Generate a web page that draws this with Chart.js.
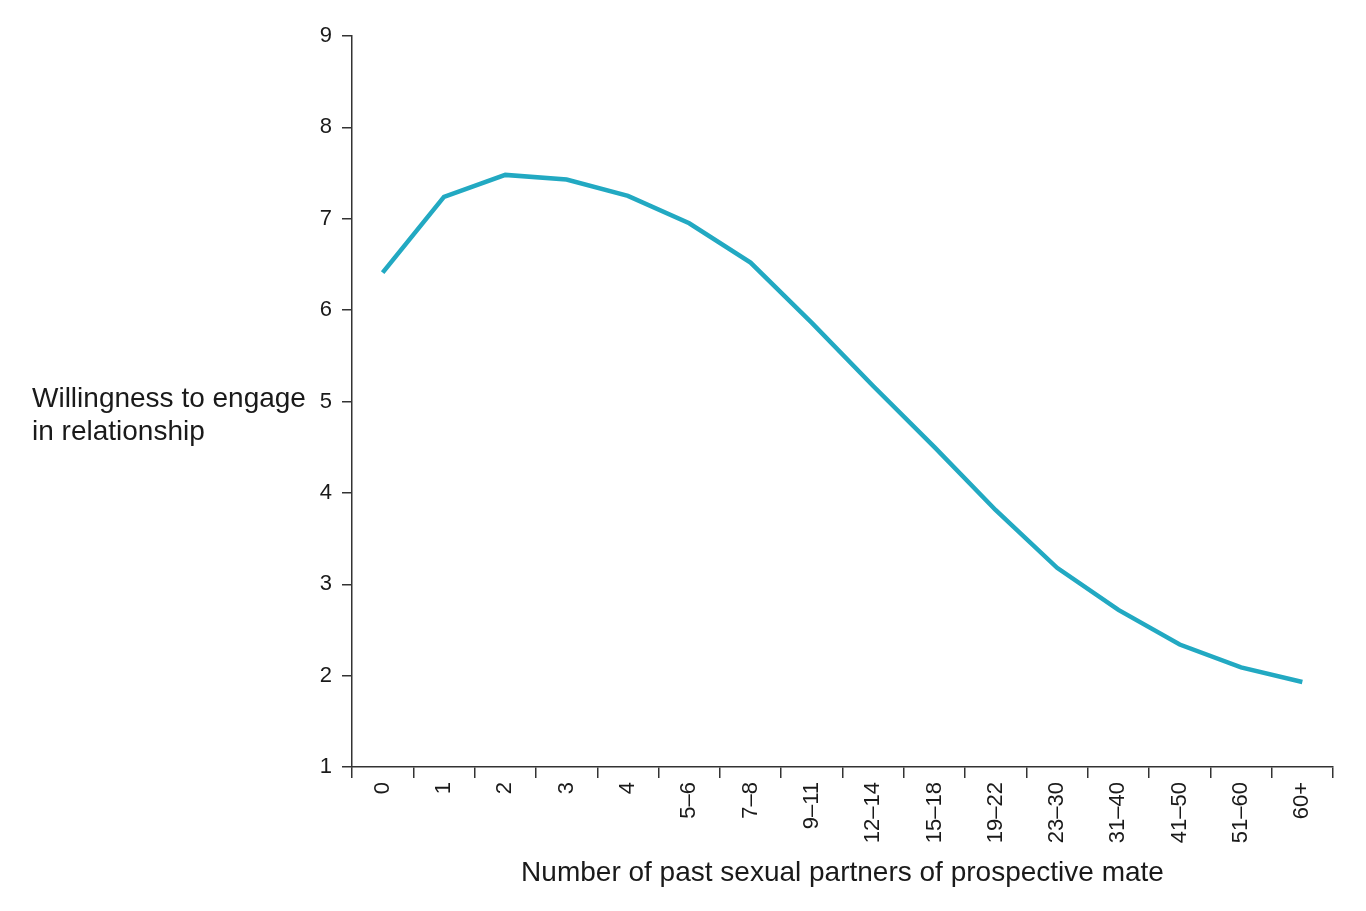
<!DOCTYPE html>
<html>
<head>
<meta charset="utf-8">
<script src="https://cdn.jsdelivr.net/npm/chart.js@4/dist/chart.umd.min.js"></script>
<style>
  html, body { margin: 0; padding: 0; background: #fff; }
  #wrap { width: 1366px; height: 911px; position: relative; }
</style>
</head>
<body>
<div id="wrap"><canvas id="chart" width="1366" height="911"></canvas></div>
<script>
const categories = ['0', '1', '2', '3', '4', '5\u20136', '7\u20138', '9\u201311', '12\u201314', '15\u201318',
    '19\u201322', '23\u201330', '31\u201340', '41\u201350', '51\u201360', '60+'];
const willingness = [6.41, 7.24, 7.48, 7.43, 7.25, 6.95, 6.52, 5.86, 5.17, 4.50,
    3.81, 3.18, 2.72, 2.34, 2.09, 1.93];
const yTitleLines = ['Willingness to engage', 'in relationship'];
const xTitle = 'Number of past sexual partners of prospective mate';

const axisColor = '#333';
const textColor = '#1a1a1a';
const fontFamily = '"Liberation Sans", Arial, Helvetica, sans-serif';

// horizontal y-axis title, left of the ticks
const yTitlePlugin = {
    id: 'yTitle',
    afterDraw(chart) {
        const ctx = chart.ctx;
        ctx.save();
        ctx.fillStyle = textColor;
        ctx.font = '28px ' + fontFamily;
        ctx.textAlign = 'left';
        ctx.textBaseline = 'middle';
        yTitleLines.forEach((line, i) => {
            ctx.fillText(line, 32, 399 + i * 33);
        });
        ctx.restore();
    }
};

new Chart(document.getElementById('chart'), {
    type: 'line',
    data: {
        labels: categories,
        datasets: [{
            data: willingness,
            borderColor: '#22a9c2',
            borderWidth: 4.5,
            pointRadius: 0,
            tension: 0,
            fill: false
        }]
    },
    options: {
        responsive: false,
        animation: false,
        layout: { padding: { top: 36, right: 33, left: 0, bottom: 0 } },
        plugins: {
            legend: { display: false },
            tooltip: { enabled: false }
        },
        scales: {
            x: {
                offset: true,
                grid: { offset: true, drawOnChartArea: false, drawTicks: true, tickLength: 11, color: axisColor, lineWidth: 1.5 },
                border: { display: true, color: axisColor, width: 1.5 },
                ticks: {
                    color: textColor,
                    font: { size: 22, family: fontFamily },
                    minRotation: 90,
                    maxRotation: 90,
                    padding: 4,
                    autoSkip: false
                },
                title: {
                    display: true,
                    text: xTitle,
                    color: textColor,
                    font: { size: 28, family: fontFamily },
                    padding: { top: 4, bottom: 21 }
                },
                afterFit(scale) { scale.height = 144; }
            },
            y: {
                min: 1,
                max: 9,
                grid: { drawOnChartArea: false, drawTicks: true, tickLength: 10, color: axisColor, lineWidth: 1.5 },
                border: { display: true, color: axisColor, width: 1.5 },
                ticks: {
                    stepSize: 1,
                    color: textColor,
                    font: { size: 22, family: fontFamily },
                    padding: 10
                },
                afterFit(scale) { scale.width = 352; }
            }
        }
    },
    plugins: [yTitlePlugin]
});
</script>
</body>
</html>
